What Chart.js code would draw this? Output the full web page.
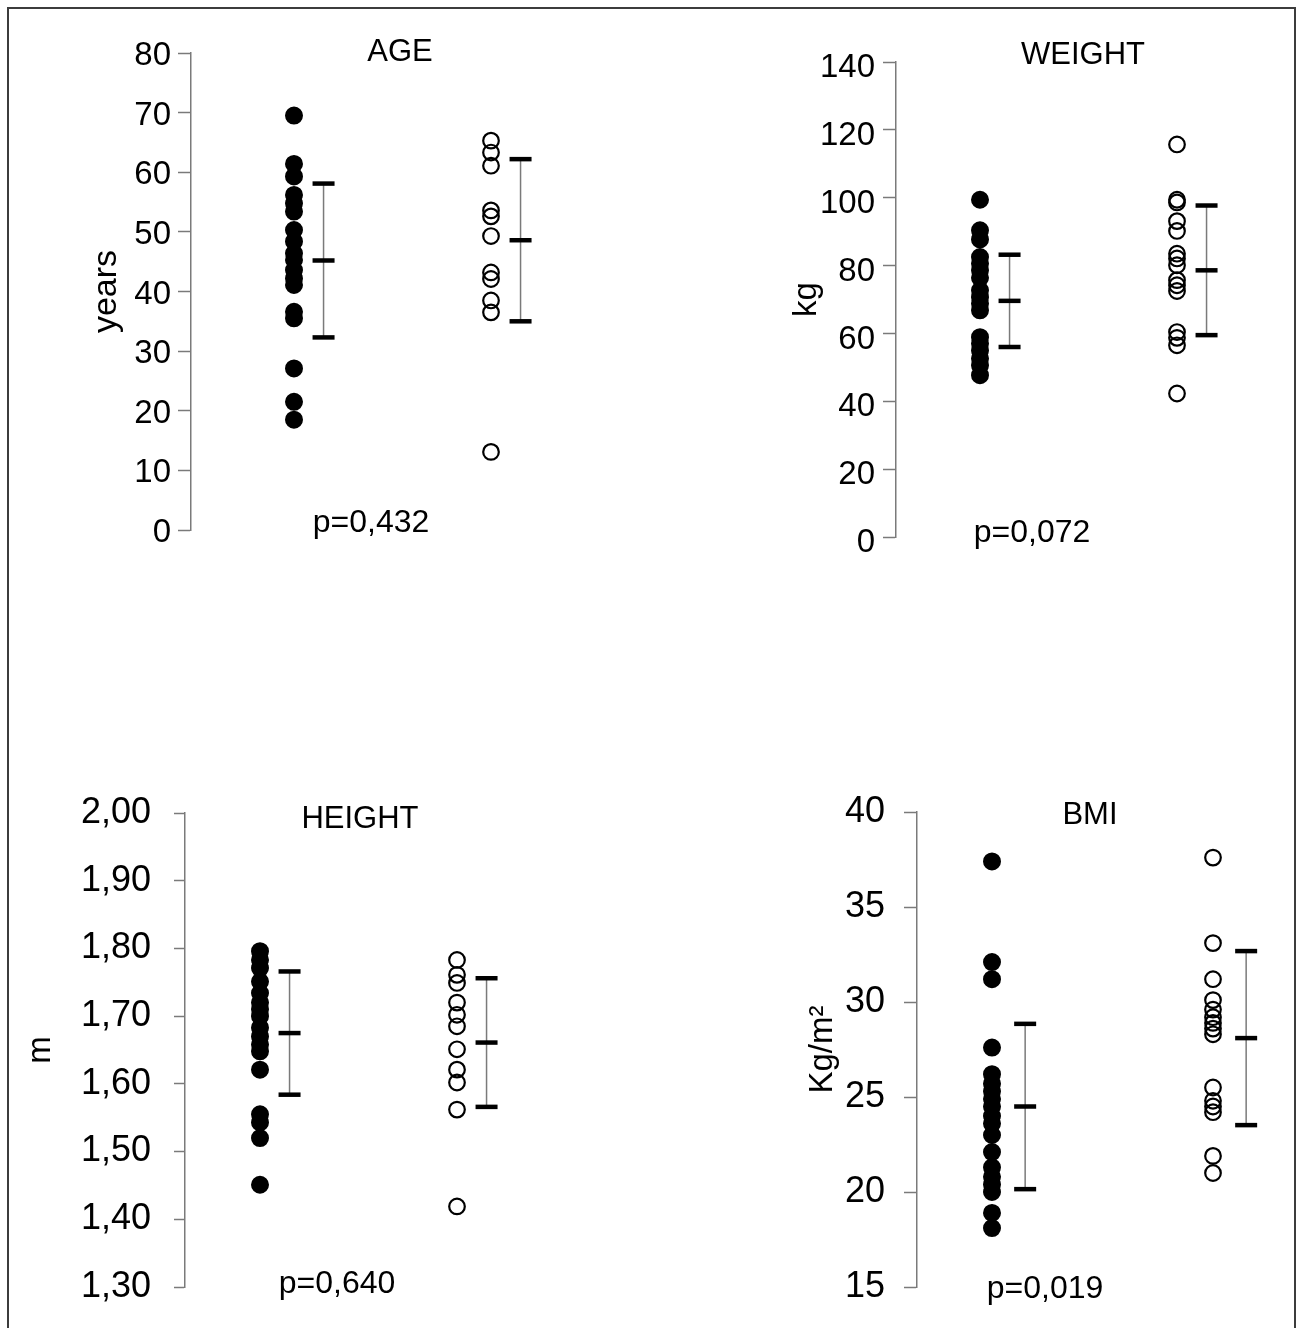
<!DOCTYPE html>
<html>
<head>
<meta charset="utf-8">
<script src="https://cdn.jsdelivr.net/npm/chart.js@4.4.1/dist/chart.umd.min.js"></script>
<style>
  html, body { margin:0; padding:0; background:#fff; width:1300px; height:1328px; overflow:hidden; position:relative; }
  #frame { position:absolute; left:7px; top:7px; width:1285px; height:1400px; border:2px solid #3c3c3c; }
  .txt { position:absolute; transform:translate(-50%,-50%); line-height:1; white-space:nowrap; color:#000;
         font-family:'Liberation Sans', Arial, sans-serif; }
</style>
</head>
<body>
<div id="frame"></div>
<script>
// ---------------- DATA ----------------
const groupNames = ['Group 1', 'Group 2'];
const panelTitles = ['AGE', 'WEIGHT', 'HEIGHT', 'BMI'];
const yAxisTitles = ['years', 'kg', 'm', 'Kg/m²'];
const pValues = ['p=0,432', 'p=0,072', 'p=0,640', 'p=0,019'];

const ageTicks = [0, 10, 20, 30, 40, 50, 60, 70, 80];
const ageGroup1 = [69.5, 61.4, 59.3, 56.2, 54.8, 53.4, 50.3, 48.4, 46.4, 45.3, 43.6, 42.2, 41.1, 36.6, 35.5, 27.1, 21.5, 18.5];
const ageGroup2 = [65.3, 63.3, 61.1, 53.6, 52.6, 49.3, 43.2, 42.1, 38.5, 36.5, 13.1];
const ageMean = [45.2, 48.6];
const ageSD = [12.9, 13.6];

const weightTicks = [0, 20, 40, 60, 80, 100, 120, 140];
const weightGroup1 = [99.4, 90.4, 87.7, 82.5, 80.6, 78.6, 76.4, 72.7, 70.7, 68.8, 66.8, 58.9, 57.0, 55.0, 52.6, 50.6, 47.7];
const weightGroup2 = [115.7, 99.4, 98.6, 93.1, 90.2, 83.5, 82.1, 80.1, 75.7, 74.2, 72.5, 60.4, 58.7, 56.5, 42.3];
const weightMean = [69.6, 78.6];
const weightSD = [13.6, 19.1];

const heightTicks = [1.30, 1.40, 1.50, 1.60, 1.70, 1.80, 1.90, 2.00];
const heightGroup1 = [1.796, 1.783, 1.771, 1.751, 1.734, 1.720, 1.710, 1.700, 1.683, 1.670, 1.658, 1.648, 1.621, 1.555, 1.543, 1.520, 1.451];
const heightGroup2 = [1.783, 1.761, 1.749, 1.720, 1.702, 1.685, 1.651, 1.621, 1.602, 1.562, 1.419];
const heightMean = [1.675, 1.661];
const heightSD = [0.091, 0.095];

const bmiTicks = [15, 20, 25, 30, 35, 40];
const bmiGroup1 = [37.4, 32.1, 31.2, 27.6, 26.2, 25.7, 25.3, 24.9, 24.5, 24.0, 23.6, 23.0, 22.1, 21.3, 20.8, 20.4, 20.0, 18.9, 18.1];
const bmiGroup2 = [37.6, 33.1, 31.2, 30.1, 29.6, 29.2, 28.9, 28.6, 28.3, 25.5, 24.8, 24.5, 24.2, 21.9, 21.0];
const bmiMean = [24.5, 28.1];
const bmiSD = [4.35, 4.58];

// ---------------- LAYOUT ----------------
const FONT = "'Liberation Sans', Arial, sans-serif";
const ERR_OFFSET = 0.15;
const layouts = [
  {left:40,  top:0,   width:560, height:600, axisX:191, topY:53,  bottomY:530,  p1:294, p2:491,  titleX:400,  titleY:50,  pX:371,  pY:521,  tickLen:13, tickPad:7,  labelOffset:3, tickFont:33, yTitleX:107, yTitleSize:34},
  {left:760, top:0,   width:520, height:600, axisX:896, topY:62,  bottomY:537,  p1:980, p2:1177, titleX:1083, titleY:53,  pX:1032, pY:531,  tickLen:13, tickPad:8,  labelOffset:6, tickFont:33, yTitleX:807, yTitleSize:33},
  {left:10,  top:730, width:560, height:640, axisX:185, topY:813, bottomY:1287, p1:260, p2:457,  titleX:360,  titleY:817, pX:337,  pY:1282, tickLen:11, tickPad:23, labelOffset:0, tickFont:36, yTitleX:41,  yTitleSize:33},
  {left:780, top:730, width:500, height:640, axisX:917, topY:812, bottomY:1287, p1:992, p2:1213, titleX:1090, titleY:813, pX:1045, pY:1287, tickLen:13, tickPad:19, labelOffset:0, tickFont:36, yTitleX:823, yTitleSize:33}
];

const intFmt = v => String(Math.round(v));
const decFmt = v => v.toFixed(2).replace('.', ',');

const panels = [
  {g1: ageGroup1,    g2: ageGroup2,    mean: ageMean,    sd: ageSD,    ticks: ageTicks,    fmt: intFmt},
  {g1: weightGroup1, g2: weightGroup2, mean: weightMean, sd: weightSD, ticks: weightTicks, fmt: intFmt},
  {g1: heightGroup1, g2: heightGroup2, mean: heightMean, sd: heightSD, ticks: heightTicks, fmt: decFmt},
  {g1: bmiGroup1,    g2: bmiGroup2,    mean: bmiMean,    sd: bmiSD,    ticks: bmiTicks,    fmt: intFmt}
];

function addText(txt, x, y, size) {
  const d = document.createElement('div');
  d.className = 'txt';
  d.textContent = txt;
  d.style.left = x + 'px';
  d.style.top = y + 'px';
  d.style.fontSize = size + 'px';
  document.body.appendChild(d);
}

panels.forEach((P, i) => {
  const L = layouts[i];
  const canvas = document.createElement('canvas');
  canvas.width = L.width; canvas.height = L.height;
  canvas.style.cssText = `position:absolute;left:${L.left}px;top:${L.top}px;width:${L.width}px;height:${L.height}px;`;
  document.body.appendChild(canvas);

  const k = L.p2 - L.p1;
  const xMin = 1 - (L.p1 - L.axisX) / k;
  const xMax = xMin + (L.left + L.width - L.axisX) / k;
  const yMin = P.ticks[0], yMax = P.ticks[P.ticks.length - 1];
  const step = Math.round((P.ticks[1] - P.ticks[0]) * 1000) / 1000;
  const yScaleWidth = L.axisX - L.left;
  const titlePadTop = (L.yTitleX - L.left) - L.yTitleSize * 1.2 / 2;

  const datasets = [];
  [P.g1, P.g2].forEach((vals, g) => {
    const pos = g + 1;
    const bx = pos + ERR_OFFSET;
    const m = P.mean[g], s = P.sd[g];
    datasets.push({
      label: groupNames[g] + ' mean ± SD', type: 'scatter',
      data: [{x: bx, y: m - s}, {x: bx, y: m}, {x: bx, y: m + s}],
      pointStyle: 'line', pointRadius: 11, pointHoverRadius: 11,
      borderColor: '#000', backgroundColor: '#000', borderWidth: 4.5
    });
    datasets.push({
      label: groupNames[g] + ' SD range', type: 'line',
      data: [{x: bx, y: m - s}, {x: bx, y: m + s}],
      borderColor: '#7a7a7a', borderWidth: 1.5, pointRadius: 0, fill: false
    });
  });
  datasets.unshift({
    label: groupNames[1], type: 'scatter',
    data: P.g2.map(v => ({x: 2, y: v})),
    pointStyle: 'circle', pointRadius: 7.8, pointHoverRadius: 7.8,
    borderColor: '#000', backgroundColor: 'rgba(0,0,0,0)', borderWidth: 2.2
  });
  datasets.unshift({
    label: groupNames[0], type: 'scatter',
    data: P.g1.map(v => ({x: 1, y: v})),
    pointStyle: 'circle', pointRadius: 8, pointHoverRadius: 8,
    borderColor: '#000', backgroundColor: '#000', borderWidth: 2
  });

  new Chart(canvas, {
    type: 'scatter',
    data: { datasets },
    options: {
      responsive: false,
      devicePixelRatio: 1,
      animation: false,
      events: [],
      layout: { autoPadding: false, padding: { left: 0, right: 0, top: L.topY - L.top, bottom: L.top + L.height - L.bottomY } },
      plugins: { legend: { display: false }, tooltip: { enabled: false }, title: { display: false } },
      scales: {
        x: { type: 'linear', display: false, min: xMin, max: xMax },
        y: {
          type: 'linear', position: 'left', min: yMin, max: yMax,
          afterFit: (scale) => { scale.width = yScaleWidth; },
          border: { display: true, color: '#7a7a7a', width: 1.5 },
          grid: { display: true, drawOnChartArea: false, drawTicks: true, tickLength: L.tickLen, tickColor: '#7a7a7a', tickWidth: 1.5 },
          ticks: {
            stepSize: step, autoSkip: false, padding: L.tickPad, labelOffset: L.labelOffset,
            color: '#000', font: { family: FONT, size: L.tickFont },
            callback: (v) => P.fmt(v)
          },
          title: {
            display: true, text: yAxisTitles[i], color: '#000',
            font: { family: FONT, size: L.yTitleSize },
            padding: { top: titlePadTop, bottom: 0 }
          }
        }
      }
    }
  });

  addText(panelTitles[i], L.titleX, L.titleY, 31);
  addText(pValues[i], L.pX, L.pY, 32);
});
</script>
</body>
</html>
